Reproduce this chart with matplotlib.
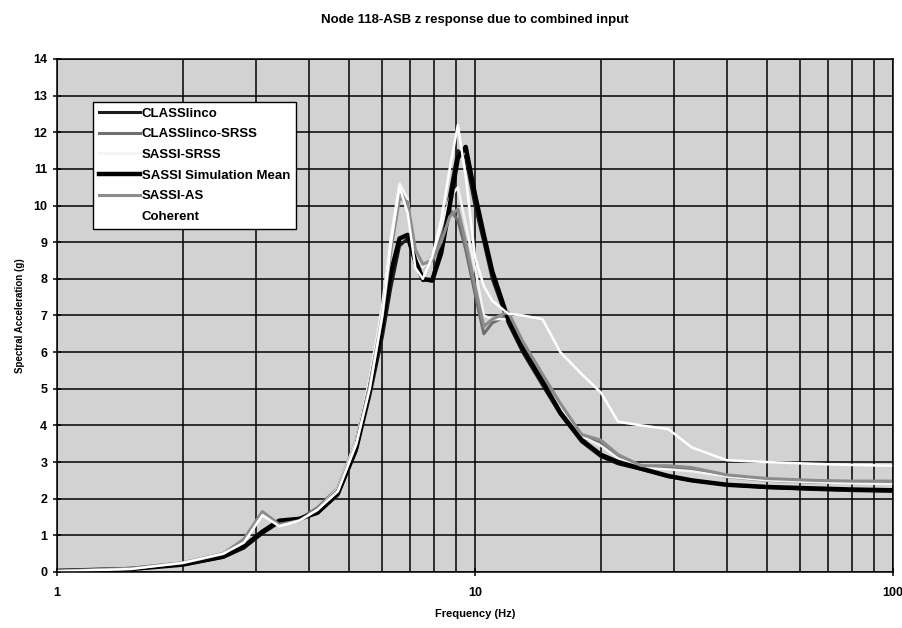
import matplotlib
matplotlib.use("Agg")
import matplotlib.pyplot as plt
from matplotlib.ticker import FixedLocator, NullFormatter, LogLocator

plt.rcParams['font.family'] = ['Liberation Sans', 'DejaVu Sans']
plt.rcParams['font.weight'] = 'bold'

# spectral acceleration (g) vs frequency (Hz) at node 118-ASB, z direction
freq = [1.0, 1.5, 2.0, 2.5, 2.8, 3.1, 3.4, 3.8, 4.2, 4.7, 5.2, 5.6, 6.0, 6.3,
        6.6, 6.9, 7.2, 7.5, 7.9, 8.3, 8.7, 9.1, 9.5, 10.0, 10.5, 11.0, 12.0,
        13.0, 14.5, 16.0, 18.0, 20.0, 22.0, 25.0, 29.0, 33.0, 40.0, 50.0,
        65.0, 80.0, 100.0]

classlinco = [0.03, 0.08, 0.2, 0.4, 0.65, 1.05, 1.35, 1.45, 1.6, 2.1, 3.3,
              4.8, 6.4, 7.8, 8.9, 9.1, 8.4, 7.95, 8.0, 8.9, 10.3, 11.5, 11.3,
              10.0, 9.0, 8.0, 6.8, 6.0, 5.1, 4.3, 3.55, 3.15, 2.95, 2.8, 2.6,
              2.5, 2.38, 2.3, 2.25, 2.22, 2.2]

classlinco_srss = [0.03, 0.1, 0.25, 0.5, 0.85, 1.6, 1.3, 1.45, 1.75, 2.3,
                   3.6, 5.2, 7.2, 9.0, 10.4, 10.0, 8.6, 8.3, 8.6, 9.2, 9.9,
                   9.6, 8.8, 7.6, 6.5, 6.8, 7.0, 6.2, 5.3, 4.5, 3.65, 3.55,
                   3.15, 2.85, 2.85, 2.8, 2.6, 2.5, 2.45, 2.45, 2.45]

sassi_srss = [0.03, 0.1, 0.25, 0.5, 0.85, 1.6, 1.25, 1.4, 1.7, 2.3, 3.6, 5.3,
              7.3, 9.2, 10.6, 10.2, 8.7, 8.3, 8.6, 9.4, 10.2, 10.5, 9.5, 8.3,
              7.0, 6.9, 6.9, 6.1, 5.2, 4.5, 3.7, 3.45, 3.1, 2.85, 2.8, 2.75,
              2.6, 2.5, 2.45, 2.42, 2.4]

sassi_mean = [0.03, 0.08, 0.2, 0.42, 0.7, 1.1, 1.4, 1.45, 1.62, 2.15, 3.4,
              5.0, 6.7, 8.2, 9.1, 9.2, 8.5, 8.0, 7.95, 8.7, 10.0, 11.3, 11.6,
              10.3, 9.2, 8.2, 6.9, 6.1, 5.2, 4.35, 3.6, 3.2, 3.0, 2.82, 2.62,
              2.5, 2.38, 2.32, 2.28, 2.25, 2.23]

sassi_as = [0.03, 0.1, 0.25, 0.5, 0.9, 1.65, 1.3, 1.4, 1.7, 2.25, 3.5, 5.1,
            7.0, 8.8, 10.2, 10.1, 8.8, 8.4, 8.5, 9.0, 9.7, 9.9, 9.0, 7.8, 6.7,
            6.9, 7.1, 6.3, 5.4, 4.6, 3.75, 3.6, 3.2, 2.9, 2.9, 2.85, 2.65,
            2.55, 2.5, 2.48, 2.48]

coherent = [0.02, 0.08, 0.25, 0.5, 0.8, 1.55, 1.25, 1.4, 1.7, 2.2, 3.5, 5.0,
            7.0, 9.0, 10.5, 9.8, 8.3, 8.0, 8.6, 9.6, 11.0, 12.2, 10.8, 8.6,
            7.8, 7.4, 7.05, 7.0, 6.9, 6.0, 5.4, 4.9, 4.1, 4.0, 3.9, 3.4, 3.05,
            3.0, 2.95, 2.92, 2.9]

series = [
    ("CLASSlinco", classlinco, "#1c1c1c", 2.2),
    ("CLASSlinco-SRSS", classlinco_srss, "#6f6f6f", 2.2),
    ("SASSI-SRSS", sassi_srss, "#f4f4f4", 1.8),
    ("SASSI Simulation Mean", sassi_mean, "#000000", 3.2),
    ("SASSI-AS", sassi_as, "#8c8c8c", 2.2),
    ("Coherent", coherent, "#ffffff", 1.8),
]

fig = plt.figure(figsize=(9.02, 6.28), dpi=100)
ax = fig.add_axes([0.0632, 0.0892, 0.9268, 0.8169])
ax.set_facecolor("#d2d2d2")

for name, vals, color, lw in series:
    ax.plot(freq, vals, color=color, lw=lw, label=name, solid_joinstyle="round")

ax.set_xscale("log")
ax.set_xlim(1, 100)
ax.set_ylim(0, 14)
ax.set_yticks(range(0, 15))
ax.xaxis.set_major_locator(FixedLocator([1, 10, 100]))
ax.xaxis.set_minor_locator(LogLocator(base=10, subs=range(2, 10)))
ax.xaxis.set_minor_formatter(NullFormatter())
ax.set_xticklabels(["1", "10", "100"])

ax.grid(True, which="both", color="black", lw=1.1)
ax.set_axisbelow(True)
for sp in ax.spines.values():
    sp.set_color("black")
    sp.set_linewidth(1.1)

ax.tick_params(axis="both", which="major", direction="inout", length=6,
               width=1.1, labelsize=9, pad=4)
ax.tick_params(axis="x", which="major", pad=8)
ax.tick_params(axis="x", which="minor", length=0)

ax.set_title("Node 118-ASB z response due to combined input",
             fontsize=9.5, fontweight="bold", pad=26)
ax.set_xlabel("Frequency (Hz)", fontsize=8, fontweight="bold", labelpad=7)
ax.set_ylabel("Spectral Acceleration (g)", fontsize=7, fontweight="bold",
              labelpad=6)

leg = ax.legend(loc="upper left", bbox_to_anchor=(0.043, 0.917),
                fontsize=9.5, frameon=True, fancybox=False, framealpha=1,
                edgecolor="black", handlelength=3.1, handletextpad=0.15,
                borderpad=0.45, labelspacing=0.64, borderaxespad=0)
leg.get_frame().set_linewidth(1.0)

fig.savefig("out.png", dpi=100, facecolor="white")
